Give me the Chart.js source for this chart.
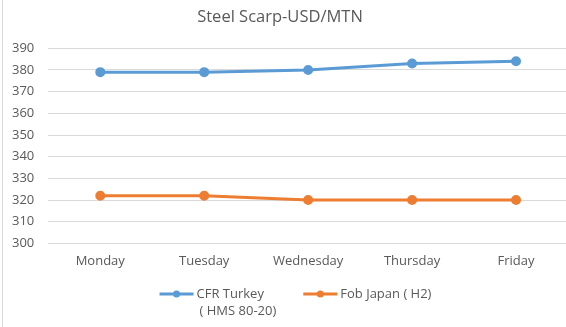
<!DOCTYPE html>
<html>
<head>
<meta charset="utf-8">
<script src="https://cdn.jsdelivr.net/npm/chart.js@4.4.1/dist/chart.umd.min.js"></script>
<style>
  html, body { margin: 0; padding: 0; background: #ffffff; overflow: hidden; }
  #wrap { position: relative; width: 568px; height: 327px; }
  #edge { position: absolute; left: 2px; top: 0; width: 1px; height: 327px; background: #d9d9d9; }
</style>
</head>
<body>
<div id="wrap">
  <canvas id="chart"></canvas>
  <div id="edge"></div>
</div>
<script>
const days = ['Monday', 'Tuesday', 'Wednesday', 'Thursday', 'Friday'];
const cfrTurkey = [379, 379, 380, 383, 384];
const fobJapan = [322, 322, 320, 320, 320];
const seriesNames = ['CFR Turkey', 'Fob Japan ( H2)'];
const seriesNotes = ['( HMS 80-20)', ''];
const yTicks = [300, 310, 320, 330, 340, 350, 360, 370, 380, 390];

const BLUE = '#5b9bd5';
const ORANGE = '#ed7d31';
const TEXT = '#595959';
const FONT = '"Open Sans", sans-serif';

// Bottom legend: line-with-dot marker, series name, optional second line
const lineLegend = {
  id: 'lineLegend',
  afterDraw(chart) {
    const ctx = chart.ctx;
    const items = chart.data.datasets.map((ds, i) => ({
      color: ds.borderColor, name: ds.label, note: seriesNotes[i]
    }));
    ctx.save();
    ctx.font = '13px ' + FONT;
    const markerW = 34, textGap = 3, itemGap = 27, noteIndent = 3;
    const widths = items.map(it => Math.max(ctx.measureText(it.name).width,
      it.note ? noteIndent + ctx.measureText(it.note).width : 0));
    const total = widths.reduce((a, w) => a + markerW + textGap + w, 0) + itemGap * (items.length - 1);
    let x = 295.5 - total / 2;
    const y = 294;
    items.forEach((it, i) => {
      ctx.strokeStyle = it.color;
      ctx.fillStyle = it.color;
      ctx.lineWidth = 3;
      ctx.beginPath(); ctx.moveTo(x, y); ctx.lineTo(x + markerW, y); ctx.stroke();
      ctx.beginPath(); ctx.arc(x + markerW / 2, y, 3.5, 0, Math.PI * 2); ctx.fill();
      ctx.fillStyle = TEXT;
      ctx.textBaseline = 'middle';
      ctx.textAlign = 'left';
      const tx = x + markerW + textGap;
      ctx.fillText(it.name, tx, y);
      if (it.note) ctx.fillText(it.note, tx + noteIndent, y + 17.5);
      x = tx + widths[i] + itemGap;
    });
    ctx.restore();
  }
};

Chart.defaults.font.family = FONT;
Chart.defaults.color = TEXT;

new Chart(document.getElementById('chart'), {
  type: 'line',
  data: {
    labels: days,
    datasets: [
      {
        label: seriesNames[0],
        data: cfrTurkey,
        borderColor: BLUE,
        backgroundColor: BLUE,
        borderWidth: 3,
        pointRadius: 3.5,
        pointHoverRadius: 3.5,
        tension: 0
      },
      {
        label: seriesNames[1],
        data: fobJapan,
        borderColor: ORANGE,
        backgroundColor: ORANGE,
        borderWidth: 3,
        pointRadius: 3.5,
        pointHoverRadius: 3.5,
        tension: 0
      }
    ]
  },
  plugins: [lineLegend],
  options: {
    responsive: true,
    maintainAspectRatio: false,
    animation: false,
    layout: { autoPadding: false, padding: { left: -8, right: 0, top: 0, bottom: 48 } },
    plugins: {
      tooltip: { enabled: false },
      legend: { display: false },
      title: {
        display: true,
        text: 'Steel Scarp-USD/MTN',
        color: TEXT,
        font: { size: 16.5, weight: 'normal', lineHeight: 1.2 },
        padding: { top: 7.6, bottom: 20.9 }
      }
    },
    scales: {
      x: {
        offset: true,
        grid: { display: false, drawTicks: false },
        border: { display: false },
        ticks: { color: TEXT, font: { size: 13, lineHeight: 1.2 }, padding: 10, maxRotation: 0 },
        afterFit(scale) { scale.paddingLeft = 0; scale.paddingRight = 0; }
      },
      y: {
        min: 300,
        max: 390,
        afterBuildTicks(scale) { scale.ticks = yTicks.map(v => ({ value: v })); },
        afterFit(scale) { scale.width = 56.3; scale.paddingTop = 0; scale.paddingBottom = 0; },
        grid: { color: '#d9d9d9', lineWidth: 1, drawTicks: false },
        border: { display: false },
        ticks: { color: TEXT, font: { size: 13 }, padding: 14 }
      }
    }
  }
});
</script>
</body>
</html>
